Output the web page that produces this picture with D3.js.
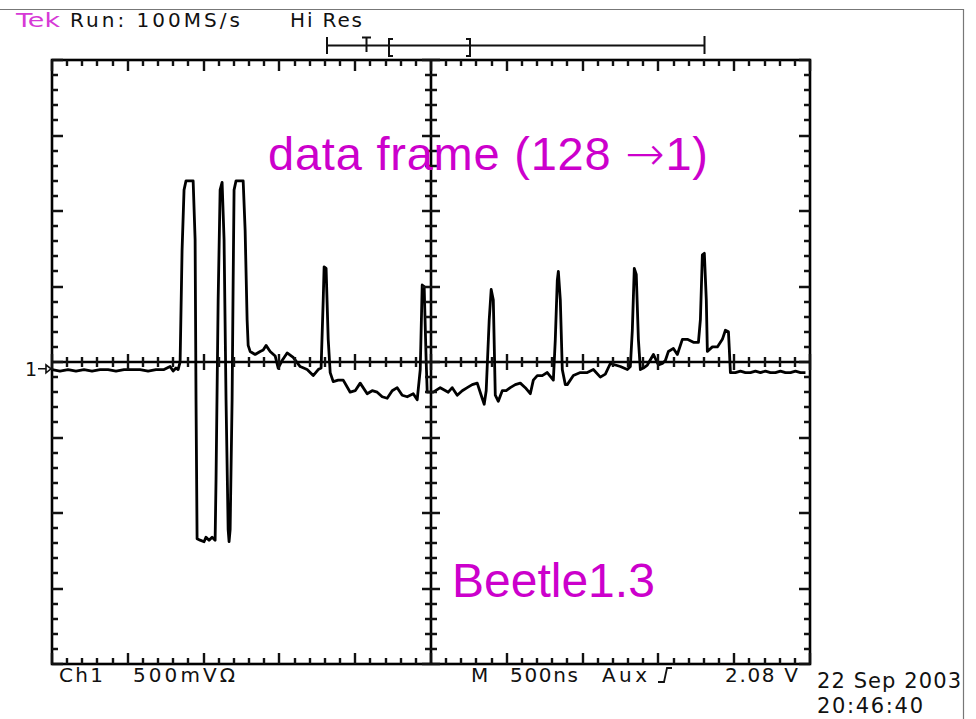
<!DOCTYPE html>
<html lang="en">
<head>
    <meta charset="UTF-8">
    <title>Beetle1.3 data frame</title>
    <style>
        body { margin: 0; background: #fff; }
        svg { display: block; }
        .scope text { font-family: "DejaVu Sans", sans-serif; fill: #111; }
        .scope text.note { font-family: "Liberation Sans", Arial, sans-serif; fill: #cc00cc; }
    </style>
    <script src="https://d3js.org/d3.v7.min.js"></script>
</head>
<body>
<script>
    // time in ns from left edge of screen, voltage in mV from centre line
    const traceT = [0, 53, 106, 158, 211, 264, 317, 370, 422, 475, 528, 581, 634, 686, 739, 779, 799, 818, 832,
        845, 858, 871, 884, 931, 944, 950, 957, 977, 1003, 1016, 1036, 1056, 1076, 1082, 1096, 1109, 1122, 1135,
        1148, 1162, 1168, 1175, 1188, 1195, 1201, 1214, 1261, 1274, 1287, 1294, 1307, 1340, 1373, 1393, 1412,
        1439, 1472, 1492, 1518, 1551, 1591, 1637, 1683, 1723, 1756, 1775, 1789, 1795, 1808, 1822, 1835, 1855,
        1888, 1921, 1967, 2000, 2033, 2079, 2112, 2145, 2178, 2211, 2244, 2277, 2310, 2343, 2383, 2409, 2429,
        2442, 2455, 2468, 2475, 2515, 2561, 2614, 2640, 2673, 2706, 2739, 2772, 2805, 2831, 2851, 2864, 2884,
        2897, 2911, 2924, 2944, 2970, 2996, 3023, 3056, 3089, 3122, 3155, 3175, 3201, 3234, 3267, 3307, 3320,
        3333, 3340, 3353, 3366, 3386, 3399, 3439, 3485, 3531, 3571, 3617, 3650, 3683, 3716, 3749, 3795, 3815,
        3828, 3841, 3854, 3868, 3881, 3901, 3927, 3967, 4000, 4026, 4046, 4066, 4099, 4125, 4158, 4191, 4231,
        4264, 4277, 4290, 4303, 4316, 4323, 4356, 4389, 4422, 4442, 4462, 4468, 4475, 4508, 4541, 4574, 4607,
        4640, 4673, 4706, 4739, 4772, 4805, 4838, 4871, 4904, 4937, 4970];
    const traceV = [-50, -60, -50, -60, -50, -60, -50, -50, -60, -50, -50, -50, -60, -50, -50, -30, -60, -40, -50,
        0, 740, 1140, 1200, 1200, 810, -250, -1170, -1180, -1190, -1160, -1180, -1160, -1180, -780, 410, 1140,
        1190, 810, -250, -1110, -1190, -1110, -250, 540, 1140, 1200, 1200, 870, 280, 110, 70, 50, 70, 80, 110,
        70, 40, -40, 10, 60, 30, -30, -50, -90, -50, -40, 410, 630, 620, 150, -70, -130,
        -120, -120, -200, -190, -140, -210, -190, -200, -230, -240, -190, -170, -220, -230, -210, -250, -50,
        510, 500, 10, -200, -200, -170, -200, -170, -220, -190, -170, -150, -140, -220, -280, -190, 280,
        480, 410, -220, -260, -190, -190, -170, -150, -140, -170, -210, -120, -90, -90, -70, -120, 150,
        540, 600, 410, -50, -150, -150, -90, -70, -70, -50, -100, -80, -10, -20, -30, -50, -30,
        210, 620, 580, 150, -50, -40, -20, 50, -20, -10, 10, 70, 90, 50, 150, 150, 130,
        130, 280, 710, 720, 410, 70, 100, 100, 150, 210, 200, 80, -70, -70, -60, -70, -70,
        -60, -70, -60, -70, -70, -60, -70, -70, -60, -70, -70];

    const timeDomain = [0, 5000];      // 10 div x 500 ns
    const voltDomain = [-2000, 2000];  // 8 div x 500 mV
    const groundLevel = -45;           // ch1 ground marker, mV

    const headerTexts = ["Run: 100MS/s", "Hi Res"];
    const footerTexts = ["Ch1", "500mVΩ", "M", "500ns", "Aux", "2.08 V"];
    const dateTexts = ["22 Sep 2003", "20:46:40"];

    const W = 976, H = 719;
    const svg = d3.select("body").append("svg")
        .attr("width", W).attr("height", H)
        .attr("class", "scope");

    const x = d3.scaleLinear().domain(timeDomain).range([52, 810]);
    const y = d3.scaleLinear().domain(voltDomain).range([664, 60]);

    // outer image border
    svg.append("path")
        .attr("d", `M0,9.5H963.5V${H}`)
        .attr("fill", "none").attr("stroke", "#777").attr("stroke-width", 1.2);

    const minorT = d3.range(timeDomain[0], timeDomain[1] + 1, 100);
    const minorV = d3.range(voltDomain[0], voltDomain[1] + 1, 100);
    const isMajor = v => Math.abs(v) % 500 === 0;

    const grat = svg.append("g")
        .attr("fill", "none").attr("stroke", "#000").attr("stroke-width", 2.6);

    // frame
    grat.append("rect")
        .attr("x", x(timeDomain[0])).attr("y", y(voltDomain[1]))
        .attr("width", x(timeDomain[1]) - x(timeDomain[0]))
        .attr("height", y(voltDomain[0]) - y(voltDomain[1]));
    // centre cross
    const midT = (timeDomain[0] + timeDomain[1]) / 2;
    grat.append("path")
        .attr("d", `M${x(timeDomain[0])},${y(0)}H${x(timeDomain[1])}M${x(midT)},${y(voltDomain[1])}V${y(voltDomain[0])}`);

    // trace
    const pts = d3.zip(traceT, traceV);
    svg.append("path")
        .datum(pts)
        .attr("d", d3.line().x(d => x(d[0])).y(d => y(d[1])))
        .attr("fill", "none")
        .attr("stroke", "#000")
        .attr("stroke-width", 2.8)
        .attr("stroke-linejoin", "round");

    // graticule ticks, one path per edge, drawn on top
    const tickLayer = svg.append("g");
    function tickPath(values, horizontal, base, lo, hi) {
        const d = values.map(v => {
            const p = Math.round(horizontal ? x(v) : y(v));
            return horizontal
                ? `M${p},${base + lo(v)}V${base + hi(v)}`
                : `M${base + lo(v)},${p}H${base + hi(v)}`;
        }).join("");
        tickLayer.append("path").attr("d", d)
            .attr("fill", "none").attr("stroke", "#111").attr("stroke-width", 2.4);
    }
    const edgeLen = v => isMajor(v) ? 11 : 6;
    const crossLen = v => isMajor(v) ? 8 : 5;
    tickPath(minorT, true, y(voltDomain[1]), () => 0, edgeLen);
    tickPath(minorT, true, y(voltDomain[0]), v => -edgeLen(v), () => 0);
    tickPath(minorV, false, x(timeDomain[0]), () => 0, edgeLen);
    tickPath(minorV, false, x(timeDomain[1]), v => -edgeLen(v), () => 0);
    tickPath(minorT, true, y(0), v => -crossLen(v), crossLen);
    tickPath(minorV, false, x(midT), v => -crossLen(v) - 1, v => crossLen(v) + 1);

    // ground marker "1->"
    const gy = y(groundLevel);
    svg.append("text").attr("x", 25).attr("y", gy + 7).attr("font-size", 19).text("1");
    svg.append("path")
        .attr("d", `M38,${gy}H46M46,${gy - 4}L51,${gy}L46,${gy + 4}Z`)
        .attr("fill", "#fff").attr("stroke", "#111").attr("stroke-width", 1.6);

    // record-length bar at the top
    svg.append("path")
        .attr("d", "M327,45.5H704.5M327,37V54M704.5,36V54M362,37.5H371M366.5,37.5V52M393,39H389V56H393M466,39H470V56H466")
        .attr("fill", "none").attr("stroke", "#111").attr("stroke-width", 2);

    // header
    svg.append("text").attr("x", 16).attr("y", 27).attr("font-size", 20)
        .attr("textLength", 44).attr("lengthAdjust", "spacingAndGlyphs")
        .style("fill", "#d63ad6").text("Tek");
    const headerPos = [[70, 170], [290, 72]];
    svg.selectAll(".hdr").data(headerTexts).join("text")
        .attr("class", "hdr")
        .attr("x", (d, i) => headerPos[i][0]).attr("y", 27)
        .attr("font-size", 20)
        .attr("textLength", (d, i) => headerPos[i][1]).attr("lengthAdjust", "spacing")
        .text(d => d);

    // footer readouts
    const footPos = [[59, 44], [133, 102], [471, 17], [510, 68], [602, 45], [725, 73]];
    svg.selectAll(".ftr").data(footerTexts).join("text")
        .attr("class", "ftr")
        .attr("x", (d, i) => footPos[i][0]).attr("y", 682)
        .attr("font-size", 20)
        .attr("textLength", (d, i) => footPos[i][1]).attr("lengthAdjust", "spacing")
        .text(d => d);
    // trigger slope symbol
    svg.append("path")
        .attr("d", "M658,682H664L667,668H672")
        .attr("fill", "none").attr("stroke", "#111").attr("stroke-width", 1.8);

    // date / time
    const datePos = [[817, 688, 144], [817, 713, 106]];
    svg.selectAll(".dt").data(dateTexts).join("text")
        .attr("class", "dt")
        .attr("x", (d, i) => datePos[i][0]).attr("y", (d, i) => datePos[i][1])
        .attr("font-size", 21)
        .attr("textLength", (d, i) => datePos[i][2]).attr("lengthAdjust", "spacing")
        .text(d => d);

    // annotations
    const title = svg.append("text").attr("class", "note")
        .attr("x", 268).attr("y", 170).attr("font-size", 47)
        .attr("textLength", 440).attr("lengthAdjust", "spacing");
    title.append("tspan").text("data frame (128 ");
    title.append("tspan").style("font-family", "'DejaVu Sans', sans-serif").style("font-weight", 300).text("→");
    title.append("tspan").text("1)");

    svg.append("text").attr("class", "note")
        .attr("x", 452).attr("y", 597).attr("font-size", 48)
        .text("Beetle1.3");
</script>
</body>
</html>
